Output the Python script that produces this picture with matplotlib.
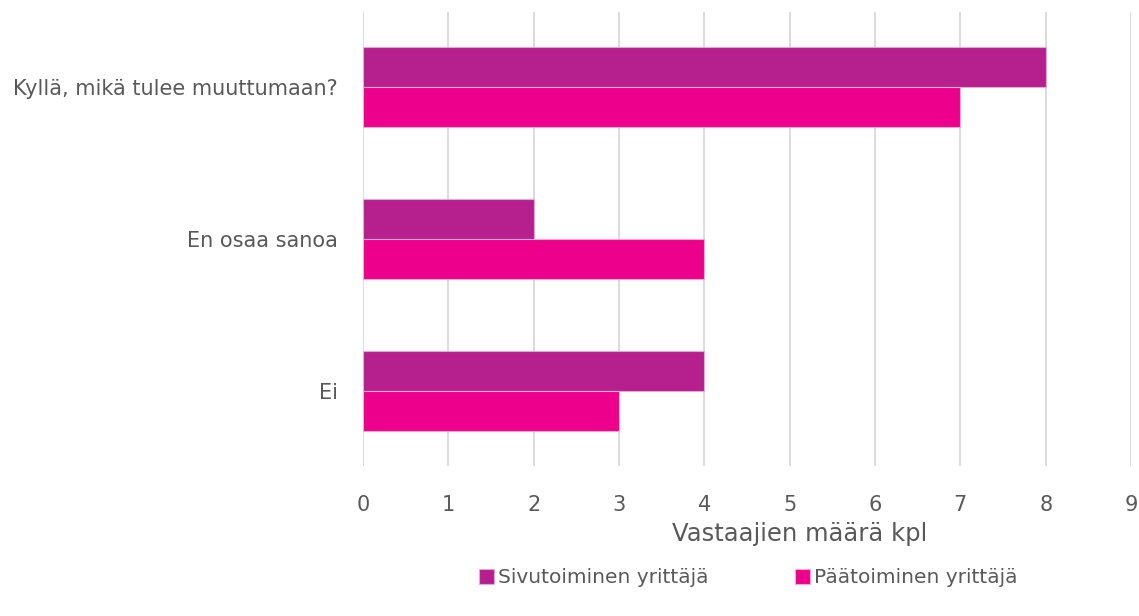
import matplotlib
matplotlib.use("Agg")
import matplotlib.pyplot as plt
import numpy as np

categories = ["Ei", "En osaa sanoa", "Kyllä, mikä tulee muuttumaan?"]
sivutoiminen = [4, 2, 8]
paatoiminen = [3, 4, 7]
series_names = ["Sivutoiminen yrittäjä", "Päätoiminen yrittäjä"]
x_ticks = list(range(0, 10))

TEXT = "#595959"
C_SIVU = "#B61F8E"
C_PAA = "#EC008C"

plt.rcParams["font.family"] = ["DejaVu Sans"]

fig = plt.figure(figsize=(11.39, 6.16), dpi=100)
ax = fig.add_axes([0.3187, 0.2435, 0.6743, 0.737])

y = np.arange(len(categories))
h = 0.262
ax.barh(y + h / 2, sivutoiminen, height=h, color=C_SIVU, edgecolor="#E6A8D3", linewidth=0.8,
        label=series_names[0], zorder=3)
ax.barh(y - h / 2, paatoiminen, height=h, color=C_PAA, edgecolor="#F5A8D3", linewidth=0.8,
        label=series_names[1], zorder=3)

ax.set_xlim(0, 9)
ax.set_ylim(-0.49, 2.49)
ax.set_xticks(x_ticks)
ax.set_yticks(y)
ax.set_yticklabels(categories)
ax.tick_params(axis="both", length=0, colors=TEXT, labelsize=15)
ax.tick_params(axis="x", pad=21)
ax.tick_params(axis="y", pad=18)
for s in ax.spines.values():
    s.set_visible(False)
ax.grid(axis="x", color="#D9D9D9", linewidth=1.3, zorder=0)
ax.set_axisbelow(True)

ax.set_xlabel("Vastaajien määrä kpl", color=TEXT, fontsize=17.5)
ax.xaxis.set_label_coords(0.569, -0.123)

leg = fig.legend(loc="center", bbox_to_anchor=(0.657, 0.062), ncol=2, frameon=False,
                 fontsize=14.5, handlelength=0.75, handleheight=0.75, handletextpad=0.2,
                 columnspacing=4.3)
for t in leg.get_texts():
    t.set_color(TEXT)

fig.savefig("out.png", dpi=100)
